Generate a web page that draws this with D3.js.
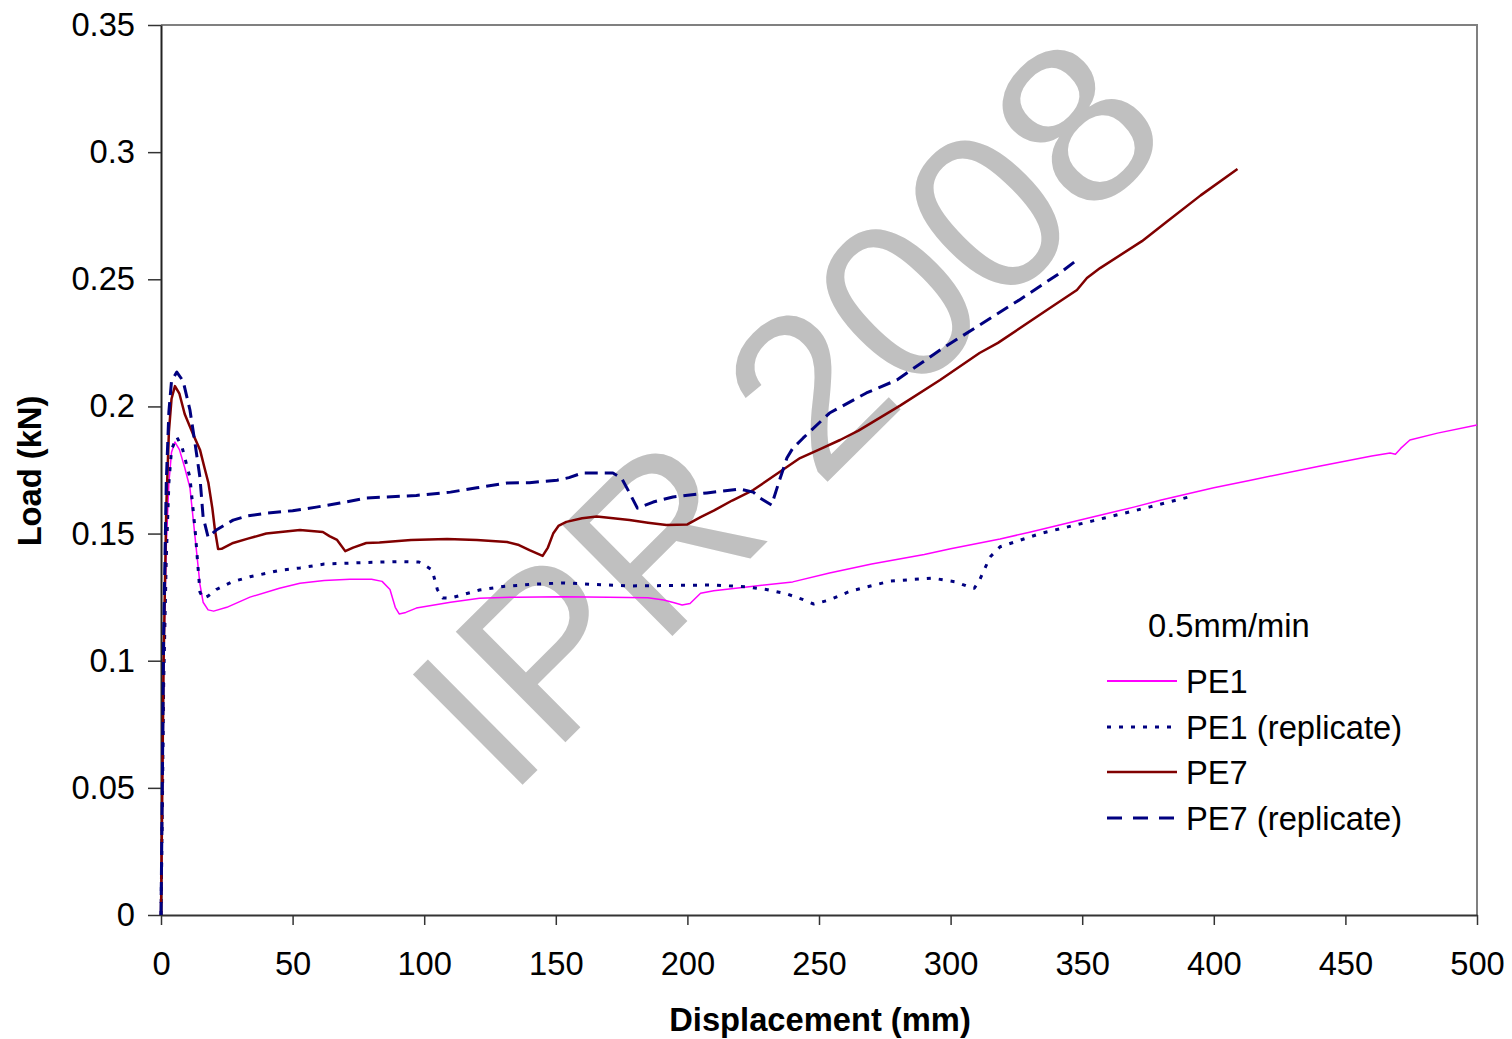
<!DOCTYPE html>
<html>
<head>
<meta charset="utf-8">
<script src="https://cdn.jsdelivr.net/npm/d3@7"></script>
<style>
  html, body { margin: 0; padding: 0; background: #fff; }
  svg { display: block; font-family: Arial, "Liberation Sans", sans-serif; }
</style>
</head>
<body>
<svg id="chart" width="1512" height="1039"></svg>
<script>
// ---------- data ----------
const xTicks = [0, 50, 100, 150, 200, 250, 300, 350, 400, 450, 500];
const yTicks = [0, 0.05, 0.1, 0.15, 0.2, 0.25, 0.3, 0.35];
const yTickLabels = ["0", "0.05", "0.1", "0.15", "0.2", "0.25", "0.3", "0.35"];
const legendTitle = "0.5mm/min";
const seriesNames = ["PE1", "PE1 (replicate)", "PE7", "PE7 (replicate)"];
const xTitle = "Displacement (mm)";
const yTitle = "Load (kN)";
const watermark = "IPR 2008";

const pe1 = [[0,0],[0.5,0.05],[1,0.1],[2,0.145],[3,0.17],[4,0.182],[5.3,0.186],[7,0.183],[9,0.176],[11,0.168],[13,0.148],[14.8,0.130],[16,0.123],[17.9,0.120],[20,0.1195],[25,0.121],[33.8,0.125],[45,0.1285],[52.8,0.1305],[62,0.1315],[71.8,0.132],[80,0.132],[84,0.1312],[87,0.128],[89,0.121],[90.5,0.1184],[93,0.119],[97,0.1207],[110,0.123],[121,0.1246],[135,0.125],[153,0.1252],[170,0.125],[185,0.1248],[191,0.1239],[195,0.1228],[198,0.1219],[201,0.1225],[205,0.1265],[210,0.1275],[222.6,0.129],[240,0.131],[254,0.1345],[270,0.138],[290,0.1418],[300,0.144],[318.8,0.1479],[330,0.1505],[350,0.1555],[370,0.1605],[380,0.1632],[400,0.168],[414,0.171],[440,0.1765],[460,0.1805],[467,0.1817],[469,0.1812],[471,0.1835],[474.5,0.1868],[485,0.1895],[500,0.1927]];

const pe1rep = [[0,0],[0.5,0.04],[1,0.09],[2,0.14],[3,0.17],[4,0.183],[6,0.188],[8,0.184],[11,0.172],[13,0.151],[14.8,0.127],[16,0.1245],[18,0.1255],[21,0.128],[27,0.131],[33.8,0.133],[45,0.1355],[52.8,0.1365],[62,0.138],[71.8,0.1384],[83,0.1388],[91,0.139],[98,0.1388],[101,0.137],[103,0.1357],[105,0.128],[107,0.1247],[110,0.1246],[121,0.1278],[130,0.1292],[140,0.130],[153,0.1306],[165,0.130],[178,0.1294],[195,0.1296],[210,0.1298],[222.6,0.129],[230,0.128],[238,0.1262],[244,0.1240],[248,0.1223],[254,0.1239],[262,0.1274],[277,0.1313],[293,0.1325],[302,0.131],[307,0.129],[309,0.1285],[311,0.1317],[315,0.1408],[318.8,0.1448],[334,0.150],[354,0.155],[375.8,0.1605],[392,0.1648]];

const pe7 = [[0,0],[0.5,0.05],[1,0.1],[2,0.16],[3,0.19],[4,0.203],[5.3,0.208],[7,0.205],[9,0.197],[12,0.1895],[14.8,0.183],[16.5,0.176],[18,0.170],[19.5,0.160],[20.5,0.1514],[21.7,0.1439],[23,0.1440],[27.4,0.1463],[33,0.148],[40,0.150],[52.8,0.1514],[61.5,0.1506],[64,0.149],[66.9,0.1475],[70,0.1431],[73,0.1445],[78,0.1463],[83,0.1465],[95,0.1475],[108.7,0.1479],[120,0.1475],[131.5,0.1467],[136,0.1455],[140,0.1435],[145,0.1412],[147,0.1445],[149,0.150],[151,0.153],[154,0.1546],[160,0.156],[165.6,0.1567],[178,0.1553],[185,0.1543],[192,0.1534],[200,0.1536],[205,0.1565],[210,0.159],[217,0.163],[225,0.1671],[237.8,0.1762],[242.8,0.1797],[250,0.183],[258,0.1868],[265,0.1905],[280.8,0.2003],[296,0.2104],[311,0.221],[318,0.225],[336.6,0.2379],[348,0.2458],[351.8,0.2505],[356.8,0.2544],[372.7,0.265],[382,0.2725],[395,0.283],[409,0.2934]];

const pe7rep = [[0,0],[0.5,0.05],[1,0.11],[2,0.17],[3,0.198],[4,0.21],[6,0.2135],[8.4,0.210],[11,0.1986],[13,0.185],[14.8,0.172],[16,0.1565],[17.9,0.1486],[21,0.1514],[27.4,0.1553],[33,0.157],[40,0.158],[50,0.159],[59,0.1604],[68,0.162],[78,0.164],[97,0.165],[110,0.1663],[120,0.168],[131.5,0.1699],[140,0.170],[150.5,0.171],[155,0.172],[160,0.1738],[171.7,0.1738],[175,0.1718],[178,0.166],[181,0.160],[187,0.1624],[194.5,0.1644],[207.4,0.166],[220,0.1675],[225,0.1663],[227.6,0.164],[232,0.1612],[235,0.171],[237.8,0.1797],[240,0.1835],[244,0.1876],[254,0.1974],[268,0.2053],[279.6,0.2104],[296,0.2222],[311,0.232],[326,0.2418],[341.6,0.2525],[349,0.2584]];

// ---------- layout ----------
const svg = d3.select("#chart");
const plotL = 161, plotR = 1477, plotT = 25, plotB = 915;
const x = d3.scaleLinear().domain([0, 500]).range([plotL, plotR]);
const y = d3.scaleLinear().domain([0, 0.35]).range([plotB, plotT]);
const FS = 32.7;
const WM = 226;

// watermark (behind the data)
svg.append("text")
  .attr("transform", "translate(785,410) rotate(-44.8)")
  .attr("text-anchor", "middle")
  .attr("y", 0.358 * WM)
  .attr("font-size", WM)
  .attr("fill", "#c0c0c0")
  .text(watermark);

// plot frame (top + right)
svg.append("path")
  .attr("d", `M${plotL},${plotT}H${plotR}V${plotB}`)
  .attr("fill", "none").attr("stroke", "#808080").attr("stroke-width", 2);

// axes
const xAxis = d3.axisBottom(x).tickValues(xTicks).tickSize(10).tickSizeOuter(0).tickFormat(d3.format("d"));
const gx = svg.append("g").attr("transform", `translate(0,${plotB})`).call(xAxis);
gx.select(".domain").attr("stroke", "#333").attr("stroke-width", 2);
gx.selectAll(".tick line").attr("stroke", "#333").attr("stroke-width", 1.5);
gx.selectAll(".tick text").attr("font-size", FS).attr("fill", "#000")
  .attr("font-family", "Arial, 'Liberation Sans', sans-serif").attr("y", 60).attr("dy", 0);

const yAxis = d3.axisLeft(y).tickValues(yTicks).tickSize(13).tickSizeOuter(0)
  .tickFormat((d, i) => yTickLabels[i]);
const gy = svg.append("g").attr("transform", `translate(${plotL},0)`).call(yAxis);
gy.select(".domain").attr("stroke", "#222").attr("stroke-width", 2);
gy.selectAll(".tick line").attr("stroke", "#333").attr("stroke-width", 1.5);
gy.selectAll(".tick text").attr("font-size", FS).attr("fill", "#000")
  .attr("font-family", "Arial, 'Liberation Sans', sans-serif").attr("x", -26);

// axis titles
svg.append("text").attr("x", 820).attr("y", 1031).attr("text-anchor", "middle")
  .attr("font-size", FS).attr("font-weight", "bold").text(xTitle);
svg.append("text").attr("transform", "translate(41,471) rotate(-90)").attr("text-anchor", "middle")
  .attr("font-size", FS).attr("font-weight", "bold").text(yTitle);

// series
const styles = [
  { data: pe1,    color: "#ff00ff", width: 1.5, dash: null },
  { data: pe1rep, color: "#000080", width: 3,   dash: "4,8" },
  { data: pe7,    color: "#800000", width: 2.5, dash: null },
  { data: pe7rep, color: "#000080", width: 3,   dash: "13,7" }
];
const line = d3.line().x(d => x(d[0])).y(d => y(d[1]));
styles.forEach(s => {
  svg.append("path").datum(s.data)
    .attr("d", line)
    .attr("fill", "none")
    .attr("stroke", s.color)
    .attr("stroke-width", s.width)
    .attr("stroke-linejoin", "round")
    .attr("stroke-dasharray", s.dash);
});

// legend
svg.append("text").attr("x", 1148).attr("y", 637).attr("font-size", FS).text(legendTitle);
const legY = [681, 727, 772, 818];
styles.forEach((s, i) => {
  svg.append("line").attr("x1", 1107).attr("x2", 1177).attr("y1", legY[i]).attr("y2", legY[i])
    .attr("stroke", s.color).attr("stroke-width", s.width === 1.5 ? 2 : s.width)
    .attr("stroke-dasharray", s.dash === "13,7" ? "15,11" : s.dash);
  svg.append("text").attr("x", 1186).attr("y", legY[i] + 12).attr("font-size", FS).text(seriesNames[i]);
});
</script>
</body>
</html>
